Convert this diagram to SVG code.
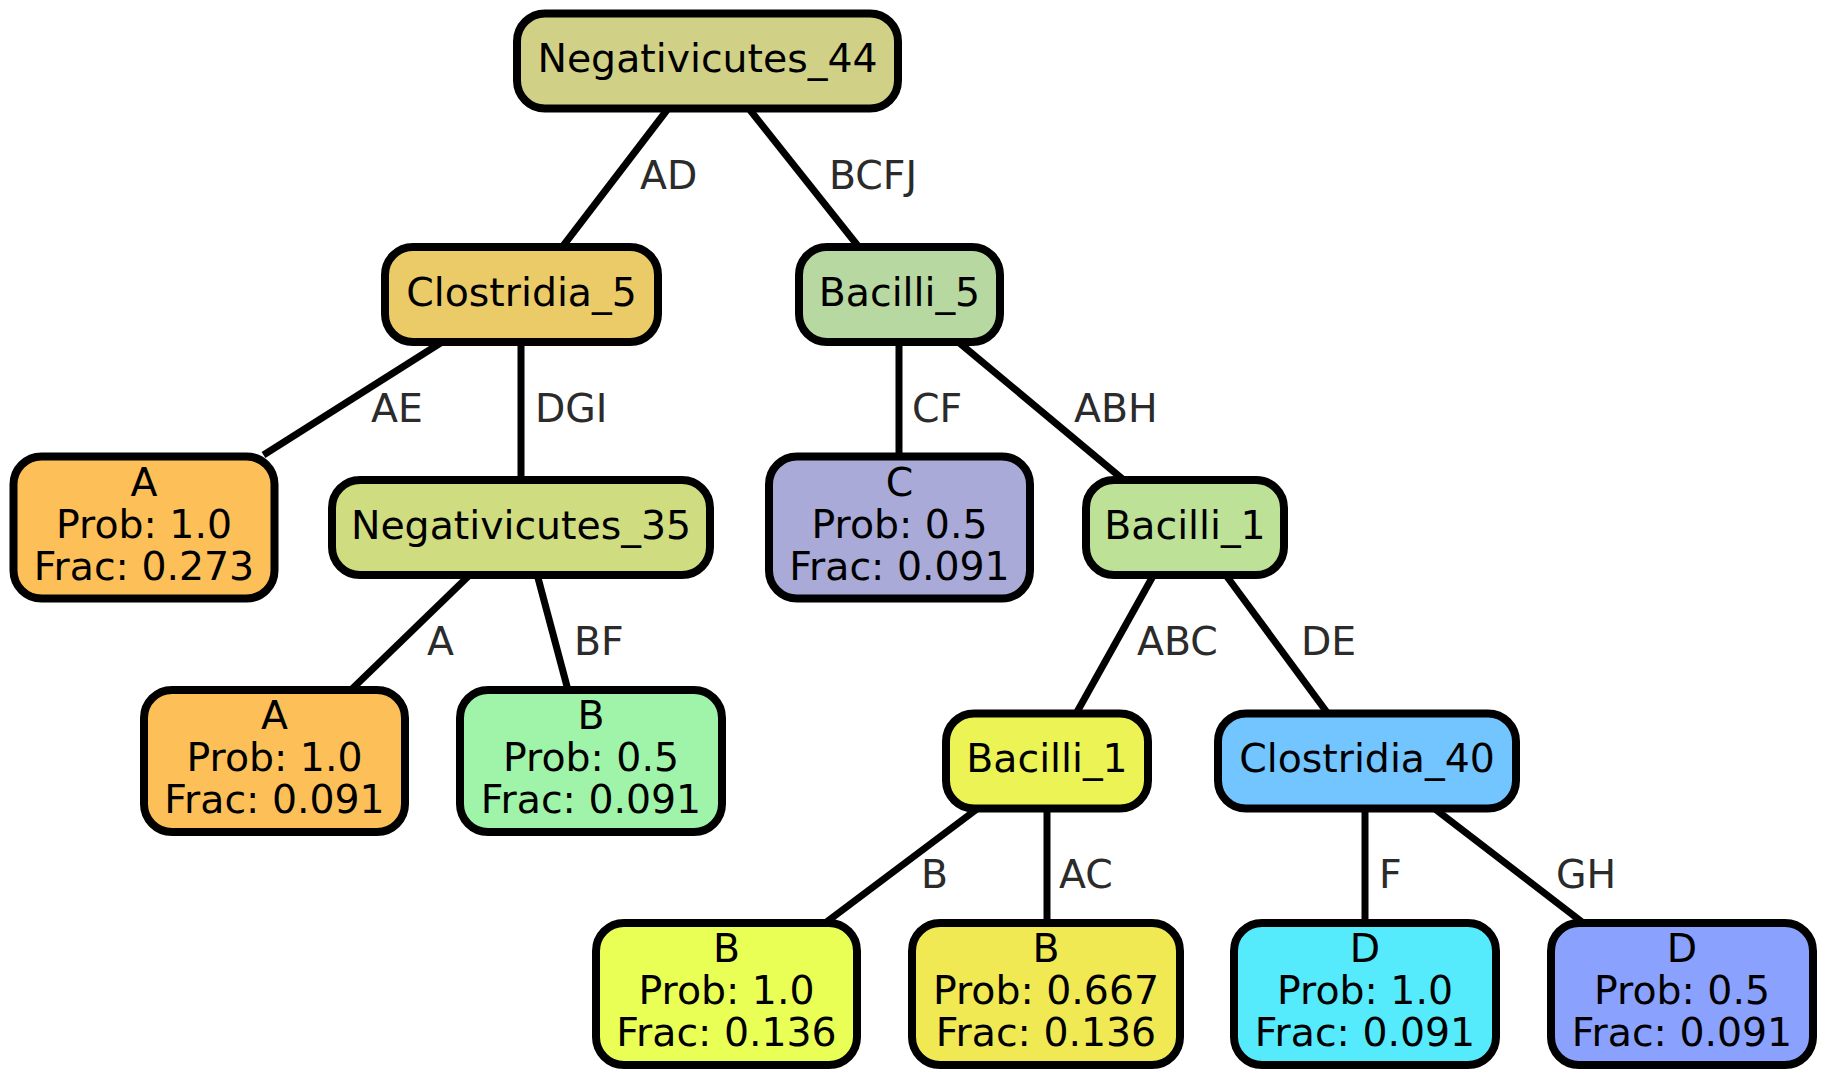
<svg xmlns="http://www.w3.org/2000/svg" width="1828" height="1079" viewBox="0 0 1828 1079">
<style>
.n{stroke:#000;stroke-width:8}
.t{font-family:"DejaVu Sans",sans-serif;font-size:39.4px;fill:#000;text-anchor:middle}
.e{stroke:#000;stroke-width:7;fill:none}
.l{font-family:"DejaVu Sans",sans-serif;font-size:39.4px;fill:#2b2b2b}
</style>
<rect width="1828" height="1079" fill="#fff"/>
<g id="connectors">
<line class="e" x1="667" y1="110" x2="563" y2="246"/>
<line class="e" x1="750" y1="110" x2="858" y2="246"/>
<line class="e" x1="440.5" y1="343" x2="263.5" y2="455"/>
<line class="e" x1="521" y1="343" x2="521" y2="479"/>
<line class="e" x1="899" y1="343" x2="899" y2="455"/>
<line class="e" x1="959.5" y1="343" x2="1122.5" y2="479"/>
<line class="e" x1="468.6" y1="576" x2="352" y2="689"/>
<line class="e" x1="537.5" y1="576" x2="567.7" y2="689"/>
<line class="e" x1="1153" y1="576" x2="1077" y2="712"/>
<line class="e" x1="1226.5" y1="576" x2="1326.7" y2="712"/>
<line class="e" x1="977" y1="809" x2="826.5" y2="922"/>
<line class="e" x1="1047" y1="809" x2="1047" y2="922"/>
<line class="e" x1="1365" y1="809" x2="1365" y2="922"/>
<line class="e" x1="1435" y1="809" x2="1582" y2="922"/>
<text class="l" x="640" y="189">AD</text>
<text class="l" x="829" y="189">BCFJ</text>
<text class="l" x="371" y="422">AE</text>
<text class="l" x="535" y="422">DGI</text>
<text class="l" x="912" y="422">CF</text>
<text class="l" x="1074" y="422">ABH</text>
<text class="l" x="427" y="655">A</text>
<text class="l" x="574" y="655">BF</text>
<text class="l" x="1137" y="655">ABC</text>
<text class="l" x="1301" y="655">DE</text>
<text class="l" x="921" y="888">B</text>
<text class="l" x="1059" y="888">AC</text>
<text class="l" x="1379" y="888">F</text>
<text class="l" x="1556" y="888">GH</text>
</g>
<g id="negativicutes_44"><rect class="n" x="517" y="13.5" width="381" height="95" rx="28" fill="#d0d187"/><text class="t" x="707.5" y="72">Negativicutes_44</text></g>
<g id="clostridia_5"><rect class="n" x="385" y="247" width="273" height="95" rx="28" fill="#ebcb68"/><text class="t" x="521.5" y="305.5">Clostridia_5</text></g>
<g id="bacilli_5"><rect class="n" x="799" y="247" width="201" height="95" rx="28" fill="#b8d8a2"/><text class="t" x="899.5" y="305.5">Bacilli_5</text></g>
<g id="leaf_a_273"><rect class="n" x="13.5" y="456.5" width="261" height="142" rx="28" fill="#fdc058"/><text class="t" x="144" y="495.5">A</text><text class="t" x="144" y="537.5">Prob: 1.0</text><text class="t" x="144" y="579.5">Frac: 0.273</text></g>
<g id="negativicutes_35"><rect class="n" x="332" y="480" width="378" height="95" rx="28" fill="#cfdc80"/><text class="t" x="521" y="538.5">Negativicutes_35</text></g>
<g id="leaf_c"><rect class="n" x="769" y="456.5" width="261" height="142" rx="28" fill="#a9aad7"/><text class="t" x="899.5" y="495.5">C</text><text class="t" x="899.5" y="537.5">Prob: 0.5</text><text class="t" x="899.5" y="579.5">Frac: 0.091</text></g>
<g id="bacilli_1_a"><rect class="n" x="1086" y="480" width="198" height="95" rx="28" fill="#bde196"/><text class="t" x="1185" y="538.5">Bacilli_1</text></g>
<g id="leaf_a_091"><rect class="n" x="144" y="690" width="261" height="142" rx="28" fill="#fdc058"/><text class="t" x="274.5" y="729">A</text><text class="t" x="274.5" y="771">Prob: 1.0</text><text class="t" x="274.5" y="813">Frac: 0.091</text></g>
<g id="leaf_b_05"><rect class="n" x="460" y="690" width="262" height="142" rx="28" fill="#a0f4aa"/><text class="t" x="591" y="729">B</text><text class="t" x="591" y="771">Prob: 0.5</text><text class="t" x="591" y="813">Frac: 0.091</text></g>
<g id="bacilli_1_b"><rect class="n" x="946" y="713.5" width="202" height="95" rx="28" fill="#ecf455"/><text class="t" x="1047" y="772">Bacilli_1</text></g>
<g id="clostridia_40"><rect class="n" x="1218" y="713.5" width="298" height="95" rx="28" fill="#72c5fe"/><text class="t" x="1367" y="772">Clostridia_40</text></g>
<g id="leaf_b_10"><rect class="n" x="596" y="923" width="261" height="142" rx="28" fill="#eaff55"/><text class="t" x="726.5" y="962">B</text><text class="t" x="726.5" y="1004">Prob: 1.0</text><text class="t" x="726.5" y="1046">Frac: 0.136</text></g>
<g id="leaf_b_667"><rect class="n" x="912" y="923" width="268" height="142" rx="28" fill="#f0e954"/><text class="t" x="1046" y="962">B</text><text class="t" x="1046" y="1004">Prob: 0.667</text><text class="t" x="1046" y="1046">Frac: 0.136</text></g>
<g id="leaf_d_10"><rect class="n" x="1234" y="923" width="262" height="142" rx="28" fill="#55ebfd"/><text class="t" x="1365" y="962">D</text><text class="t" x="1365" y="1004">Prob: 1.0</text><text class="t" x="1365" y="1046">Frac: 0.091</text></g>
<g id="leaf_d_05"><rect class="n" x="1551" y="923" width="262" height="142" rx="28" fill="#8aa2fe"/><text class="t" x="1682" y="962">D</text><text class="t" x="1682" y="1004">Prob: 0.5</text><text class="t" x="1682" y="1046">Frac: 0.091</text></g>
</svg>
